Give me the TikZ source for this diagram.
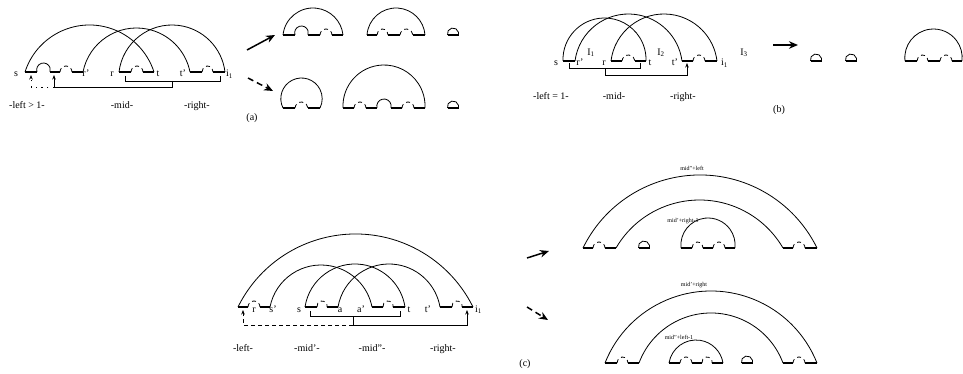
\documentclass[tikz,border=0pt]{standalone}
\usepackage{fontspec}
\setmainfont{Liberation Serif}
\usetikzlibrary{arrows.meta}
\usetikzlibrary{positioning}
\tikzstyle{pairarc} = [line width=0.8pt]
\tikzstyle{bases} = [line width=2pt]
\tikzstyle{notch} = [line width=0.8pt, dash pattern=on 4pt off 3.4pt]
\tikzstyle{letter} = [inner sep=0pt, anchor=base, font=\fontsize{10}{12}\selectfont]
\tikzstyle{sumtext} = [inner sep=0pt, font=\fontsize{6}{7}\selectfont]
\tikzstyle{arrow} = [line width=1.5pt, -{Stealth[length=9pt, width=7.5pt]}]
\tikzstyle{dasharrow} = [arrow, dash pattern=on 6pt off 4pt]
\tikzstyle{link} = [line width=0.7pt]
\tikzstyle{linkarrow} = [link, -{Stealth[length=4.5pt, width=3.5pt]}]
% arc over a strand: [style] x1, x2, base y, top y
\newcommand{\pkarc}[5][]{%
  \pgfmathsetmacro\hw{((#3)-(#2))/2}%
  \pgfmathsetmacro\hh{(#4)-(#5)}%
  \pgfmathsetmacro\rr{0.5*\hw*(\hw/\hh)+0.5*\hh}%
  \pgfmathsetmacro\ea{atan2(\rr-\hh,\hw)}%
  \pgfmathsetmacro\sa{180-(\ea)}%
  \draw[pairarc,#1] (#2,#4) arc[start angle=\sa, end angle=\ea, radius=\rr pt];%
}
\newcommand{\pkseg}[3]{\draw[bases] (#1,#3) -- (#2,#3);}
\newcommand{\pknotch}[3]{\pkarc[notch]{#1}{#2}{#3}{(#3)-6}}
\newcommand{\pkhump}[3]{\pkarc{#1}{#2}{#3}{(#3)-9}}
\newcommand{\pkdisc}[2]{%
  \pgfmathsetmacro\dl{#1-5.5}\pgfmathsetmacro\dr{#1+5.5}\pgfmathsetmacro\dt{#2-7}%
  \pkarc{\dl}{\dr}{#2}{\dt}\draw[bases] (\dl,#2) -- (\dr,#2);}

\begin{document}
\begin{tikzpicture}[x=1pt, y=-1pt]
  \useasboundingbox (0,0) rectangle (963,374);
  %(a) strand
  \foreach \p/\q in {25/37,50/60,72/83,119/131,143/154,190/202,213/225} {\pkseg{\p}{\q}{72}}
  \foreach \p/\q in {60/72,131/143,202/213} {\pknotch{\p}{\q}{72}}
  \pkhump{37}{50}{72}
  \pkarc{25}{154}{72}{25}
  \pkarc{83}{190}{72}{28}
  \pkarc{119}{225}{72}{25}
  \node[letter] (sA) at (16,77) {s};
  \node[letter] (rpA) at (86,77) {r'};
  \node[letter] (rA) at (112,77) {r};
  \node[letter] (tA) at (158,77) {t};
  \node[letter] (tpA) at (183,77) {t'};
  \node[letter, anchor=base west] (iA) at (226,77) {i\textsubscript{1}};
  \coordinate (kA1) at (125,76);
  \coordinate (kA2) at (220,76);
  \coordinate (kAm) at (172,81);
  \coordinate (kAj) at (54,87);
  \coordinate (kAl) at (54,75);
  \coordinate (kAd) at (31,75);
  \draw[link] (kA1) -- ++(0,5) -| (kA2);
  \draw[linkarrow] (kAm) -- (kAm |- kAj) -- (kAj) -- (kAl);
  \draw[linkarrow, dash pattern=on 1.2pt off 4.5pt] (kAj) -| (kAd);
  \node[letter] (leftA) at (27,109) {-left > 1-};
  \node[letter] (midA) at (122,109) {-mid-};
  \node[letter] (rightA) at (197,109) {-right-};
  \node[letter] (capA) at (252,121) {(a)};
  %(a) results
  \coordinate (upA0) at (247,50);
  \coordinate (upA1) at (275,35);
  \coordinate (dnA0) at (248,78);
  \coordinate (dnA1) at (273,91);
  \draw[arrow] (upA0) -- (upA1);
  \draw[dasharrow] (dnA0) -- (dnA1);
  \foreach \p/\q in {283/295,308/320,332/343,367/377,388/400,413/425} {\pkseg{\p}{\q}{35}}
  \foreach \p/\q in {320/332,377/388,400/413} {\pknotch{\p}{\q}{35}}
  \pkhump{295}{308}{35}
  \pkarc{283}{343}{35}{8}
  \pkarc{367}{425}{35}{8}
  \pkdisc{453}{35}
  \foreach \p/\q in {283/295,308/320,343/354,366/377,391/402,414/425} {\pkseg{\p}{\q}{108}}
  \foreach \p/\q in {295/308,354/366,402/414} {\pknotch{\p}{\q}{108}}
  \pkhump{377}{391}{108}
  \pkarc{283}{320}{108}{78}
  \pkarc{343}{425}{108}{65}
  \pkdisc{453}{108}
  %(b) strand
  \foreach \p/\q in {563/575,611/622,635/646,682/693,705/717} {\pkseg{\p}{\q}{61}}
  \foreach \p/\q in {622/635,693/705} {\pknotch{\p}{\q}{61}}
  \pkarc{563}{646}{61}{18}
  \pkarc{575}{682}{61}{14}
  \pkarc{611}{717}{61}{14}
  \node[letter] (sB) at (556,66) {s};
  \node[letter] (rpB) at (580,66) {r'};
  \node[letter] (rB) at (604,66) {r};
  \node[letter] (tB) at (650,66) {t};
  \node[letter] (tpB) at (675,66) {t'};
  \node[letter, anchor=base west] (iB) at (721,66) {i\textsubscript{1}};
  \node[letter] (IoneB) at (591,55.5) {I\textsubscript{1}};
  \node[letter] (ItwoB) at (661,55.5) {I\textsubscript{2}};
  \node[letter] (IthreeB) at (744,55.5) {I\textsubscript{3}};
  \coordinate (kB1) at (569,63);
  \coordinate (kB2) at (640,63);
  \coordinate (kBm) at (605,68);
  \coordinate (kBe) at (687,63);
  \draw[link] (kB1) -- ++(0,5) -| (kB2);
  \draw[linkarrow] (kBm) -- ++(0,7) -| (kBe);
  \node[letter] (leftB) at (551,100) {-left = 1-};
  \node[letter] (midB) at (614,100) {-mid-};
  \node[letter] (rightB) at (683,100) {-right-};
  \node[letter] (capB) at (779,113) {(b)};
  %(b) result
  \coordinate (upB0) at (773,45);
  \coordinate (upB1) at (798,45);
  \draw[arrow] (upB0) -- (upB1);
  \pkdisc{816}{61}
  \pkdisc{851}{61}
  \foreach \p/\q in {905/917,928/940,952/962} {\pkseg{\p}{\q}{61}}
  \foreach \p/\q in {917/928,940/952} {\pknotch{\p}{\q}{61}}
  \pkarc{905}{962}{61}{29}
  %(c) strand
  \foreach \p/\q in {238/248,260/270,305/317,327/338,372/383,393/405,440/452,462/473} {\pkseg{\p}{\q}{307}}
  \foreach \p/\q in {248/260,317/327,383/393,452/462} {\pknotch{\p}{\q}{307}}
  \pkarc{238}{473}{307}{234}
  \pkarc{270}{372}{307}{265}
  \pkarc{305}{405}{307}{264}
  \pkarc{338}{440}{307}{264}
  \node[letter] (rC) at (254,312) {r};
  \node[letter] (spC) at (273,312) {s'};
  \node[letter] (sC) at (299,312) {s};
  \node[letter] (aC) at (340,312) {a};
  \node[letter] (apC) at (361,312) {a'};
  \node[letter] (tC) at (409,312) {t};
  \node[letter] (tpC) at (428,312) {t'};
  \node[letter, anchor=base west] (iC) at (475,312) {i\textsubscript{1}};
  \coordinate (kC1) at (310,311);
  \coordinate (kC2) at (400,311);
  \coordinate (kCm) at (353,316);
  \coordinate (kCj) at (353,325);
  \coordinate (kCr) at (467,310);
  \coordinate (kCl) at (243,310);
  \draw[link] (kC1) -- ++(0,5) -| (kC2);
  \draw[link] (kCm) -- (kCj);
  \draw[linkarrow] (kCj) -| (kCr);
  \draw[linkarrow, dash pattern=on 4pt off 3pt] (kCj) -| (kCl);
  \node[letter] (leftC) at (243,351.5) {-left-};
  \node[letter] (midpC) at (307,351.5) {-mid'-};
  \node[letter] (midppC) at (372,351.5) {-mid''-};
  \node[letter] (rightC) at (443,351.5) {-right-};
  \node[letter] (capC) at (525,366) {(c)};
  %(c) results
  \coordinate (upC0) at (527,258);
  \coordinate (upC1) at (549,251);
  \coordinate (dnC0) at (527,307);
  \coordinate (dnC1) at (548,320);
  \draw[arrow] (upC0) -- (upC1);
  \draw[dasharrow] (dnC0) -- (dnC1);
  \foreach \p/\q in {583/593,605/616,681/692,703/713,725/735,783/793,805/817} {\pkseg{\p}{\q}{248}}
  \foreach \p/\q in {593/605,692/703,713/725,793/805} {\pknotch{\p}{\q}{248}}
  \pkdisc{644}{248}
  \pkarc{583}{817}{248}{175}
  \pkarc{616}{783}{248}{200}
  \pkarc{681}{735}{248}{218}
  \node[sumtext] (sumC1) at (692,168) {mid''+left};
  \node[sumtext] (sumC2) at (683,221) {mid'+right-1};
  \foreach \p/\q in {605/617,628/639,669/680,692/702,712/723,783/793,805/817} {\pkseg{\p}{\q}{363}}
  \foreach \p/\q in {617/628,680/692,702/712,793/805} {\pknotch{\p}{\q}{363}}
  \pkdisc{747}{363}
  \pkarc{605}{817}{363}{291}
  \pkarc{639}{783}{363}{313}
  \pkarc{669}{723}{363}{340}
  \node[sumtext] (sumC3) at (694,285) {mid'+right};
  \node[sumtext] (sumC4) at (679,337) {mid''+left-1};
\end{tikzpicture}
\end{document}
